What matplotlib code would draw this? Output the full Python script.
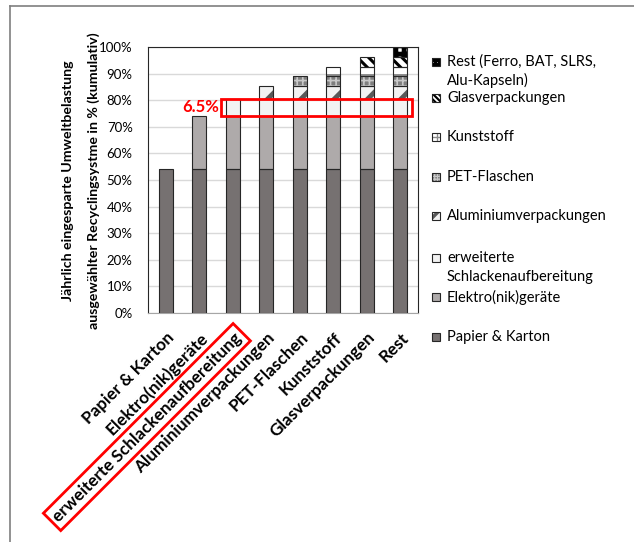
import matplotlib.pyplot as plt
from matplotlib.patches import Rectangle
from matplotlib.lines import Line2D
from matplotlib.transforms import ScaledTranslation

plt.rcParams['font.family'] = ['Lato', 'DejaVu Sans']
plt.rcParams['hatch.linewidth'] = 1.6

# data (percent, increment of each recycling system)
categories = ["Papier & Karton", "Elektro(nik)geräte", "erweiterte Schlackenaufbereitung",
              "Aluminiumverpackungen", "PET-Flaschen", "Kunststoff", "Glasverpackungen", "Rest"]
increments = [54.2, 19.9, 6.5, 4.6, 3.8, 3.6, 3.5, 3.9]
legend_labels = ["Papier & Karton", "Elektro(nik)geräte", "erweiterte\nSchlackenaufbereitung",
                 "Aluminiumverpackungen", "PET-Flaschen", "Kunststoff", "Glasverpackungen",
                 "Rest (Ferro, BAT, SLRS,\nAlu-Kapseln)"]
highlight_label = "6.5%"
y_ticks = list(range(0, 101, 10))

# facecolor, hatch, hatch colour, hatch linewidth
styles = [
    ("#767171", None, "#767171", 1),
    ("#AEAAAA", None, "#AEAAAA", 1),
    ("#F2F2F2", None, "#F2F2F2", 1),
    ("#F2F2F2", "/", "#595959", 3.5),
    ("#7F7F7F", "+++", "#C8C8C8", 1.2),
    ("#FFFFFF", "+", "#8C8C8C", 1.4),
    ("#FFFFFF", "\\\\\\", "#000000", 2.2),
    ("#FFFFFF", "++", "#000000", 3.5),
]


def set_hlw(p, lw):
    if hasattr(p, "set_hatch_linewidth"):
        p.set_hatch_linewidth(lw)


W, H = 634, 542
fig = plt.figure(figsize=(W / 100, H / 100), dpi=100)
ax = fig.add_axes([148 / W, 1 - 313 / H, 270 / W, 266 / H])

n = len(categories)
bottom = 0
for j, inc in enumerate(increments):
    xs = list(range(j, n))
    fc, hatch, hc, hlw = styles[j]
    bars = ax.bar(xs, [inc] * len(xs), bottom=bottom, width=0.41, color=fc, hatch=hatch,
                  edgecolor=hc, linewidth=0, zorder=2)
    for p in bars:
        set_hlw(p, hlw)
    ax.bar(xs, [inc] * len(xs), bottom=bottom, width=0.41, fill=False,
           edgecolor="#262626", linewidth=0.8, zorder=3)
    bottom += inc

ax.set_xlim(-0.53, n - 0.47)
ax.set_ylim(0, 100)
ax.set_yticks(y_ticks)
ax.set_yticklabels([f"{t}%" for t in y_ticks], fontsize=9.5)
ax.yaxis.grid(True, color="#D9D9D9", linewidth=1)
ax.set_axisbelow(True)
ax.tick_params(axis="both", length=0)
ax.tick_params(axis="y", pad=11)
for s in ["left", "top", "right"]:
    ax.spines[s].set_color("#262626")
ax.spines["bottom"].set_color("#A6A6A6")

ax.set_xticks(range(n))
ax.set_xticklabels(categories, rotation=45, ha="right", va="center",
                   rotation_mode="anchor", fontsize=12.3, fontweight="bold")
ax.tick_params(axis="x", pad=16)
offset = ScaledTranslation(6 / 100, 0, fig.dpi_scale_trans)
for lbl in ax.get_xticklabels():
    lbl.set_transform(lbl.get_transform() + offset)
ax.get_xticklabels()[2].set_bbox(dict(boxstyle="square,pad=0.25", fc="none",
                                      ec="#FF0000", lw=2))

# highlight of the slag processing step
lo = sum(increments[:2])
ax.add_patch(Rectangle((2 - 0.34, lo), 5.7, increments[2], fill=False,
                       edgecolor="#FF0000", linewidth=2, zorder=5, clip_on=False))
ax.text(2 - 0.40, lo + increments[2] / 2, highlight_label, color="#FF0000",
        fontsize=12, fontweight="bold", ha="right", va="center")

# y axis title (two lines)
fig.text(68 / W, 1 - 181 / H, "Jährlich eingesparte Umweltbelastung", rotation=90,
         ha="center", va="center", fontsize=10.2, fontweight="bold")
fig.text(94 / W, 1 - 181 / H, "ausgewählter Recyclingsystme in % (kumulativ)", rotation=90,
         ha="center", va="center", fontsize=10.2, fontweight="bold")

# legend drawn by hand
legend_y = [337, 297, 258, 216, 177, 137, 98, 61.7]
for j, lab in enumerate(legend_labels):
    fc, hatch, hc, hlw = styles[j]
    y = legend_y[j]
    mk = Rectangle((432 / W, 1 - (y + 4) / H), 8 / W, 8 / H,
                   transform=fig.transFigure, facecolor=fc,
                   hatch=hatch * 2 if hatch else None,
                   edgecolor=hc, linewidth=0)
    set_hlw(mk, hlw * 0.7)
    fig.patches.append(mk)
    fig.patches.append(Rectangle((432 / W, 1 - (y + 4) / H), 8 / W, 8 / H,
                                 transform=fig.transFigure, fill=False,
                                 edgecolor="#262626", linewidth=0.8))
    for k, line in enumerate(lab.split("\n")):
        fig.text(447 / W, 1 - (y + 18.5 * k) / H, line, fontsize=10.5,
                 ha="left", va="center")

# page frame
fig.add_artist(Line2D([10 / W, 10 / W], [0, 1 - 6 / H], color="#7F7F7F", lw=1.2,
                      transform=fig.transFigure))
fig.add_artist(Line2D([10 / W, 1], [1 - 6 / H, 1 - 6 / H], color="#7F7F7F", lw=1.2,
                      transform=fig.transFigure))

fig.savefig("out.png", dpi=100)
